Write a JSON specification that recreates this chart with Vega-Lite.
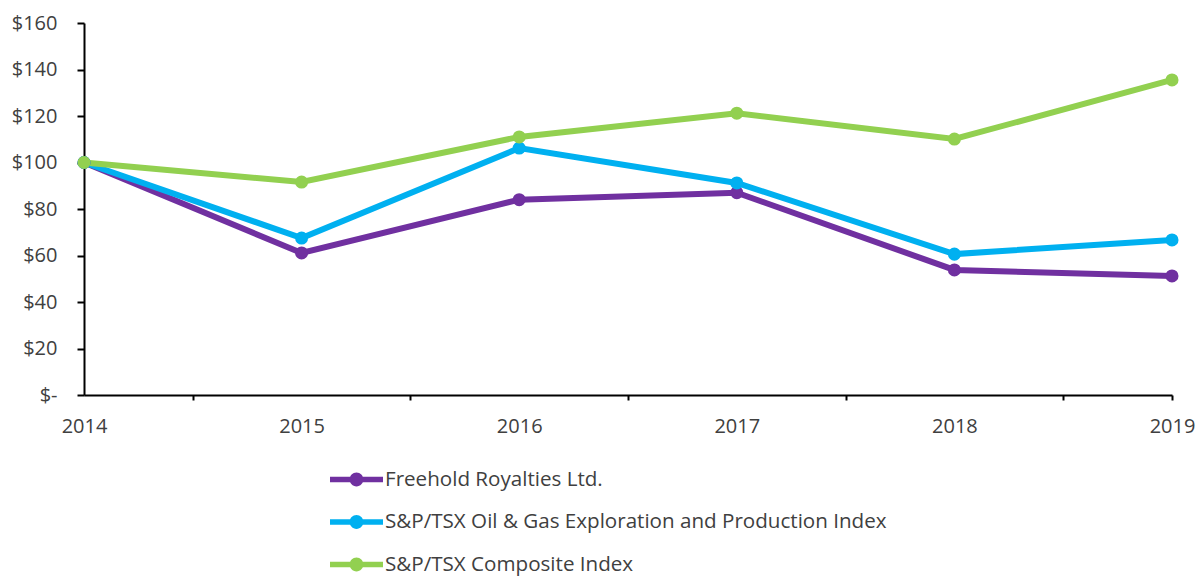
{
  "$schema": "https://vega.github.io/schema/vega-lite/v6.json",
  "width": 1088,
  "height": 372,
  "autosize": {"type": "none"},
  "padding": {"left": 84, "top": 23, "right": 24, "bottom": 182},
  "background": "white",
  "config": {
    "view": {"stroke": null},
    "font": "Open Sans",
    "axis": {"labelFont": "Open Sans", "labelFontSize": 20, "labelColor": "#404040", "domainColor": "#000000", "domainWidth": 2, "tickColor": "#000000", "tickWidth": 2, "grid": false, "title": null},
    "legend": {"labelFont": "Open Sans", "labelFontSize": 20.6, "labelColor": "#404040", "labelLimit": 0}
  },
  "data": {
    "values": [
      {"year": 2014, "series": "Freehold Royalties Ltd.", "value": 100},
      {"year": 2015, "series": "Freehold Royalties Ltd.", "value": 61.1},
      {"year": 2016, "series": "Freehold Royalties Ltd.", "value": 84.0},
      {"year": 2017, "series": "Freehold Royalties Ltd.", "value": 87.0},
      {"year": 2018, "series": "Freehold Royalties Ltd.", "value": 53.8},
      {"year": 2019, "series": "Freehold Royalties Ltd.", "value": 51.2},
      {"year": 2014, "series": "S&P/TSX Oil & Gas Exploration and Production Index", "value": 100},
      {"year": 2015, "series": "S&P/TSX Oil & Gas Exploration and Production Index", "value": 67.5},
      {"year": 2016, "series": "S&P/TSX Oil & Gas Exploration and Production Index", "value": 106.2},
      {"year": 2017, "series": "S&P/TSX Oil & Gas Exploration and Production Index", "value": 91.2},
      {"year": 2018, "series": "S&P/TSX Oil & Gas Exploration and Production Index", "value": 60.6},
      {"year": 2019, "series": "S&P/TSX Oil & Gas Exploration and Production Index", "value": 66.7},
      {"year": 2014, "series": "S&P/TSX Composite Index", "value": 100},
      {"year": 2015, "series": "S&P/TSX Composite Index", "value": 91.6},
      {"year": 2016, "series": "S&P/TSX Composite Index", "value": 111.0},
      {"year": 2017, "series": "S&P/TSX Composite Index", "value": 121.2},
      {"year": 2018, "series": "S&P/TSX Composite Index", "value": 110.1},
      {"year": 2019, "series": "S&P/TSX Composite Index", "value": 135.5}
    ]
  },
  "encoding": {
    "x": {
      "field": "year", "type": "quantitative",
      "scale": {"domain": [2014, 2019], "nice": false, "zero": false},
      "axis": {
        "values": [2014, 2014.5, 2015, 2015.5, 2016, 2016.5, 2017, 2017.5, 2018, 2018.5, 2019],
        "labelExpr": "datum.value % 1 === 0 ? toString(datum.value) : ''",
        "tickSize": 5,
        "labelPadding": 16,
        "labelFlush": false,
        "labelOverlap": false,
        "tickColor": {"condition": {"test": "datum.value % 1 === 0 && datum.value !== 2019", "value": "transparent"}, "value": "#000000"}
      }
    },
    "y": {
      "field": "value", "type": "quantitative",
      "scale": {"domain": [0, 160], "nice": false},
      "axis": {
        "values": [0, 20, 40, 60, 80, 100, 120, 140, 160],
        "labelExpr": "datum.value === 0 ? '$-' : '$' + datum.value",
        "tickSize": 7,
        "labelPadding": 20
      }
    },
    "color": {
      "field": "series", "type": "nominal",
      "scale": {
        "domain": ["Freehold Royalties Ltd.", "S&P/TSX Oil & Gas Exploration and Production Index", "S&P/TSX Composite Index"],
        "range": ["#7030A0", "#00B0F0", "#92D050"]
      },
      "legend": {
        "title": null,
        "orient": "none",
        "direction": "vertical",
        "legendX": 246,
        "legendY": 430,
        "symbolType": "M-1,-0.1H1V0.1H-1Z M-0.26,0A0.26,0.26 0 1,1 0.26,0A0.26,0.26 0 1,1 -0.26,0Z",
        "symbolSize": 2809,
        "symbolStrokeWidth": 0,
        "labelOffset": 2,
        "rowPadding": 4.5,
        "padding": 0,
        "encode": {
          "symbols": {"update": {"fill": {"scale": "color", "field": "value"}, "strokeWidth": {"value": 0}, "opacity": {"value": 1}}}
        }
      }
    }
  },
  "layer": [
    {"mark": {"type": "line", "strokeWidth": 6}},
    {"mark": {"type": "point", "filled": true, "size": 170, "opacity": 1}}
  ]
}
